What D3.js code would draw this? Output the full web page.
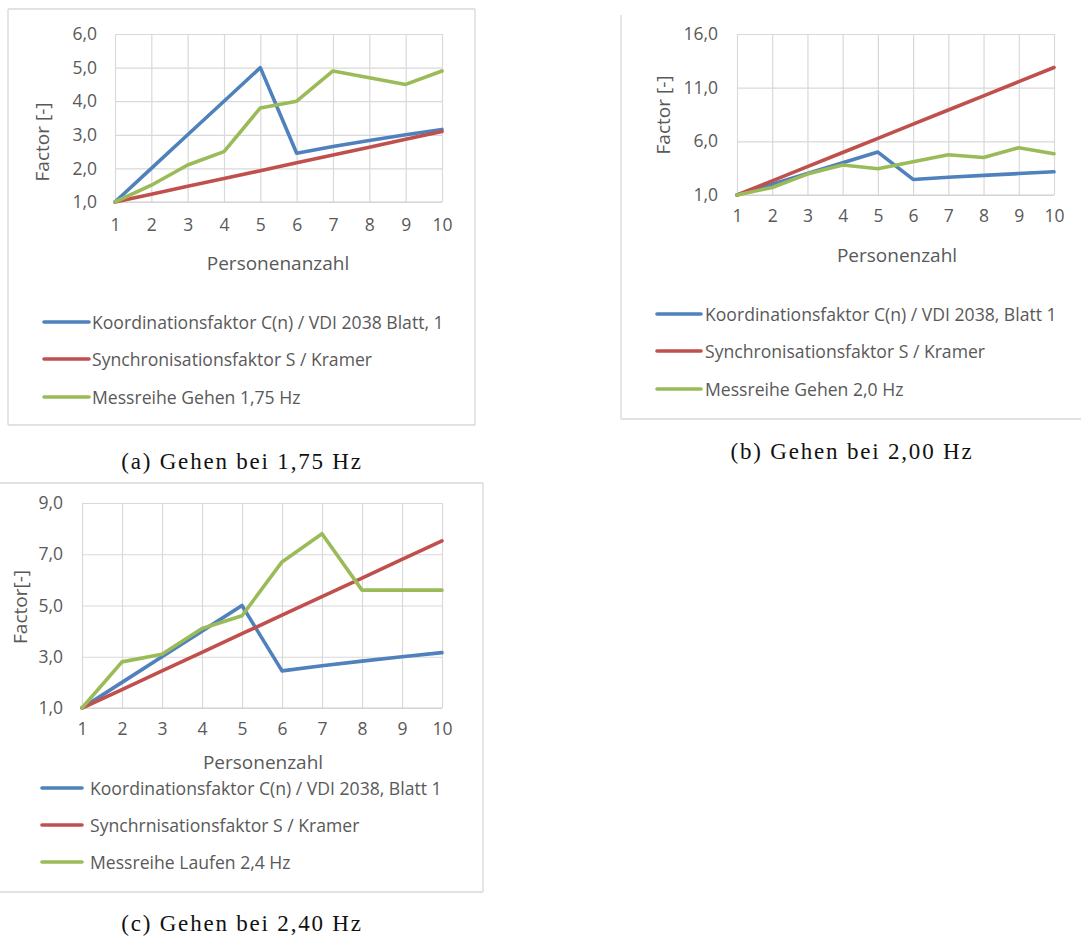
<!DOCTYPE html>
<html>
<head>
<meta charset="utf-8">
<script src="https://cdn.jsdelivr.net/npm/d3@7"></script>
<style>
  html, body { margin: 0; padding: 0; background: #ffffff; }
  svg { display: block; }
</style>
</head>
<body>
<svg id="fig" width="1081" height="938"></svg>
<script>
// ---- data ---------------------------------------------------------------
const personen = [1, 2, 3, 4, 5, 6, 7, 8, 9, 10];

// Koordinationsfaktor C(n) nach VDI 2038 (identisch in allen drei Diagrammen)
const koordinationsfaktor = [1.0, 2.0, 3.0, 4.0, 5.0, 2.45, 2.65, 2.83, 3.0, 3.16];

// (a) Gehen bei 1,75 Hz
const synchronA = [1.0, 1.23, 1.47, 1.70, 1.93, 2.17, 2.40, 2.63, 2.87, 3.10];
const messreiheA = [1.0, 1.5, 2.1, 2.5, 3.8, 4.0, 4.9, 4.7, 4.5, 4.9];
const yTicksA = [1, 2, 3, 4, 5, 6];

// (b) Gehen bei 2,00 Hz
const synchronB = [1.0, 2.32, 3.64, 4.96, 6.28, 7.60, 8.92, 10.24, 11.56, 12.88];
const messreiheB = [1.0, 1.7, 2.95, 3.8, 3.45, 4.1, 4.75, 4.5, 5.4, 4.85];
const yTicksB = [1, 6, 11, 16];

// (c) Gehen bei 2,40 Hz
const synchronC = [1.0, 1.72, 2.45, 3.17, 3.90, 4.62, 5.35, 6.07, 6.80, 7.52];
const messreiheC = [1.0, 2.8, 3.1, 4.1, 4.6, 6.7, 7.8, 5.6, 5.6, 5.6];
const yTicksC = [1, 3, 5, 7, 9];

const legendA = ["Koordinationsfaktor C(n) / VDI 2038 Blatt, 1",
                 "Synchronisationsfaktor S / Kramer",
                 "Messreihe Gehen 1,75 Hz"];
const legendB = ["Koordinationsfaktor C(n) / VDI 2038, Blatt 1",
                 "Synchronisationsfaktor S / Kramer",
                 "Messreihe Gehen 2,0 Hz"];
const legendC = ["Koordinationsfaktor C(n) / VDI 2038, Blatt 1",
                 "Synchrnisationsfaktor S / Kramer",
                 "Messreihe Laufen 2,4 Hz"];

// ---- styling ------------------------------------------------------------
const seriesColors = ["#4f81bd", "#c0504d", "#9bbb59"];
const textColor = "#595959";
const gridColor = "#d9d9d9";
const frameColor = "#d9d9d9";
const uiFont = "'Open Sans', Lato, sans-serif";
const captionFont = "'Liberation Serif', 'DejaVu Serif', serif";

const de = d3.formatLocale({ decimal: ",", thousands: ".", grouping: [3], currency: ["", " €"] });
const fmt1 = de.format(".1f");

const svg = d3.select("#fig");

function drawPanel(p) {
  const g = svg.append("g");

  // chart frame (only the visible edges)
  p.frame.forEach(([x1, y1, x2, y2]) => {
    g.append("line").attr("x1", x1).attr("y1", y1).attr("x2", x2).attr("y2", y2)
      .attr("stroke", frameColor).attr("stroke-width", 1.3);
  });

  const x = d3.scaleLinear().domain([1, 10]).range([p.plot.left, p.plot.right]);
  const y = d3.scaleLinear().domain([p.yTicks[0], p.yTicks[p.yTicks.length - 1]])
    .range([p.plot.bottom, p.plot.top]);
  const w = p.plot.right - p.plot.left;
  const h = p.plot.bottom - p.plot.top;

  // horizontal gridlines + y tick labels
  const yAxis = g.append("g").attr("transform", `translate(${p.plot.left},0)`)
    .call(d3.axisLeft(y).tickValues(p.yTicks).tickFormat(fmt1).tickSize(-w).tickPadding(p.yLabelGap));
  // vertical gridlines + x tick labels
  const xAxis = g.append("g").attr("transform", `translate(0,${p.plot.bottom})`)
    .call(d3.axisBottom(x).tickValues(personen).tickFormat(d3.format("d")).tickSize(-h).tickPadding(p.xLabelGap));

  [yAxis, xAxis].forEach(a => {
    a.select(".domain").remove();
    a.selectAll(".tick line").attr("stroke", gridColor).attr("stroke-width", 1.2);
    a.selectAll(".tick text").attr("font-size", p.tickSize).attr("fill", textColor)
      .attr("font-family", uiFont);
  });
  g.append("line").attr("x1", p.plot.left).attr("x2", p.plot.right)
    .attr("y1", p.plot.bottom).attr("y2", p.plot.bottom)
    .attr("stroke", "#d0d0d0").attr("stroke-width", 1.2);

  // data lines
  const line = d3.line().x((d, i) => x(personen[i])).y(d => y(d));
  p.series.forEach((s, i) => {
    g.append("path").datum(s).attr("d", line).attr("fill", "none")
      .attr("stroke", seriesColors[i]).attr("stroke-width", 3.6)
      .attr("stroke-linejoin", "round").attr("stroke-linecap", "round");
  });

  // axis titles
  g.append("text").attr("transform", `translate(${p.yTitle.x},${p.yTitle.y}) rotate(-90)`)
    .attr("text-anchor", "middle").attr("dominant-baseline", "central")
    .attr("font-family", uiFont).attr("font-size", p.titleSize).attr("fill", textColor)
    .text(p.yTitle.text);
  g.append("text").attr("x", p.xTitle.x).attr("y", p.xTitle.y)
    .attr("text-anchor", "middle").attr("dominant-baseline", "central")
    .attr("font-family", uiFont).attr("font-size", p.titleSize).attr("fill", textColor)
    .text(p.xTitle.text);

  // legend
  p.legend.labels.forEach((label, i) => {
    const ly = p.legend.rows[i];
    g.append("line").attr("x1", p.legend.x1).attr("x2", p.legend.x2)
      .attr("y1", ly).attr("y2", ly).attr("stroke", seriesColors[i])
      .attr("stroke-width", 3.6).attr("stroke-linecap", "round");
    g.append("text").attr("x", p.legend.tx).attr("y", ly)
      .attr("dominant-baseline", "central")
      .attr("font-family", uiFont).attr("font-size", p.legendSize).attr("fill", textColor)
      .text(label);
  });

  // caption
  g.append("text").attr("x", p.caption.x).attr("y", p.caption.y)
    .attr("text-anchor", "middle").attr("dominant-baseline", "central")
    .attr("font-family", captionFont).attr("font-size", 23).attr("letter-spacing", 1.8)
    .attr("fill", "#111")
    .text(p.caption.text);
}

drawPanel({
  frame: [[8, 9, 475, 9], [475, 9, 475, 425], [475, 425, 8, 425], [8, 425, 8, 9]],
  plot: { left: 115, right: 442, top: 34, bottom: 202 },
  yTicks: yTicksA,
  yLabelGap: 18, xLabelGap: 17, tickSize: 17.5, titleSize: 19, legendSize: 17.6,
  series: [koordinationsfaktor, synchronA, messreiheA],
  yTitle: { x: 42, y: 142, text: "Factor [-]" },
  xTitle: { x: 278, y: 263, text: "Personenanzahl" },
  legend: { x1: 44, x2: 89, tx: 92, rows: [322, 359, 397], labels: legendA },
  caption: { x: 242, y: 461, text: "(a) Gehen bei 1,75 Hz" }
});

drawPanel({
  frame: [[621, 15, 621, 419], [621, 419, 1081, 419]],
  plot: { left: 737, right: 1054, top: 34, bottom: 195 },
  yTicks: yTicksB,
  yLabelGap: 19, xLabelGap: 15, tickSize: 17.5, titleSize: 19, legendSize: 17.6,
  series: [koordinationsfaktor, synchronB, messreiheB],
  yTitle: { x: 663, y: 115, text: "Factor [-]" },
  xTitle: { x: 897, y: 255, text: "Personenzahl" },
  legend: { x1: 657, x2: 701, tx: 705, rows: [314, 351, 389], labels: legendB },
  caption: { x: 852, y: 451, text: "(b) Gehen bei 2,00 Hz" }
});

drawPanel({
  frame: [[0, 483, 483, 483], [483, 483, 483, 892], [483, 892, 0, 892]],
  plot: { left: 82, right: 442, top: 503, bottom: 708 },
  yTicks: yTicksC,
  yLabelGap: 19, xLabelGap: 15, tickSize: 17.5, titleSize: 19, legendSize: 17.6,
  series: [koordinationsfaktor, synchronC, messreiheC],
  yTitle: { x: 20, y: 607, text: "Factor[-]" },
  xTitle: { x: 263, y: 762, text: "Personenzahl" },
  legend: { x1: 42, x2: 82, tx: 90, rows: [788, 825, 862], labels: legendC },
  caption: { x: 242, y: 923, text: "(c) Gehen bei 2,40 Hz" }
});
</script>
</body>
</html>
